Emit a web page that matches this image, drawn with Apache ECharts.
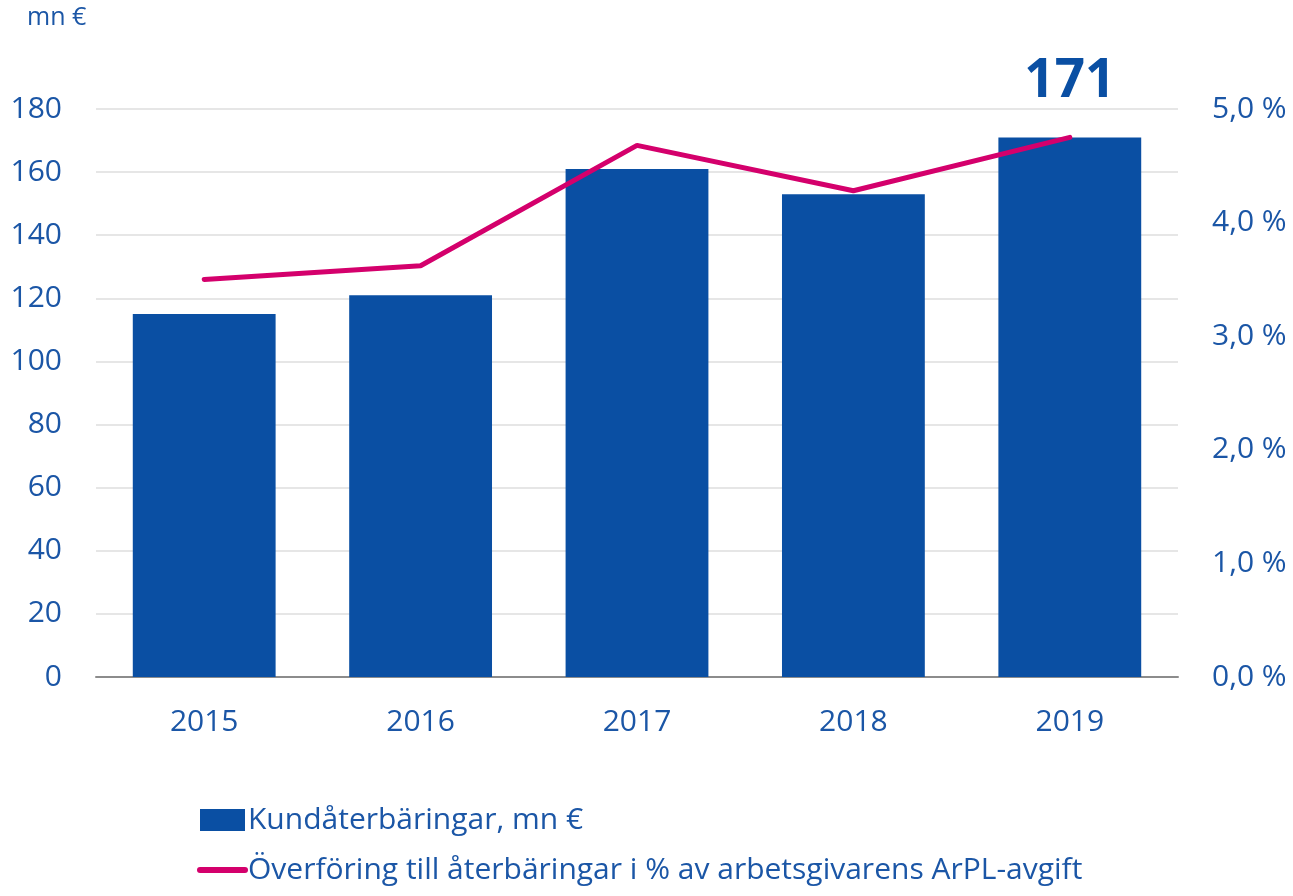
<!DOCTYPE html>
<html>
<head>
<meta charset="utf-8">
<script src="https://cdn.jsdelivr.net/npm/echarts@6/dist/echarts.min.js"></script>
<style>
	html,body{margin:0;padding:0;background:#fff;}
	#main{width:1293px;height:896px;}
</style>
</head>
<body>
<div id="main"></div>
<script>
// data
var years = ['2015', '2016', '2017', '2018', '2019']
var kundaterbaringar = [115, 121, 161, 153, 171]
var overforingPct = [3.50, 3.62, 4.68, 4.28, 4.75]
var leftTicks = [0, 20, 40, 60, 80, 100, 120, 140, 160, 180]
var rightTicks = [0, 1, 2, 3, 4, 5]

var textBlue = '#1b56a6'
var barBlue = '#0a4fa3'
var pink = '#d4006c'
var font = '"Open Sans", "Noto Sans", sans-serif'

var chart = echarts.init(document.getElementById('main'))

var option = {
	backgroundColor: '#fff',
	textStyle: { fontFamily: font },
	grid: { left: 96, right: 115, top: 109, bottom: 219 },
	graphic: [
		{
			type: 'text', left: 27, top: 5,
			style: { text: 'mn €', fill: textBlue, font: '25px ' + font }
		}
	],
	legend: {
		orient: 'vertical',
		left: 192,
		top: 800,
		itemWidth: 45,
		itemHeight: 22,
		itemGap: 20,
		textStyle: { color: textBlue, fontSize: 30, fontFamily: font, padding: [0, 0, 0, -2] },
		data: [
			{ name: 'Kundåterbäringar, mn €', icon: 'rect' },
			{
				name: 'Överföring till återbäringar i % av arbetsgivarens ArPL-avgift',
				itemStyle: { opacity: 0 },
				lineStyle: { width: 6, cap: 'round' }
			}
		]
	},
	xAxis: {
		type: 'category',
		data: years,
		axisTick: { show: false },
		axisLine: { lineStyle: { color: '#8c8c8c', width: 2 } },
		axisLabel: { color: textBlue, fontSize: 30, margin: 30, fontFamily: font }
	},
	yAxis: [
		{
			type: 'value',
			min: leftTicks[0],
			max: leftTicks[leftTicks.length - 1],
			interval: 20,
			axisLine: { show: false },
			axisTick: { show: false },
			splitLine: { lineStyle: { color: '#e6e6e6', width: 2 } },
			axisLabel: { color: textBlue, fontSize: 30, margin: 34, fontFamily: font }
		},
		{
			type: 'value',
			min: rightTicks[0],
			max: rightTicks[rightTicks.length - 1],
			interval: 1,
			axisLine: { show: false },
			axisTick: { show: false },
			splitLine: { show: false },
			axisLabel: {
				color: textBlue, fontSize: 30, margin: 34, fontFamily: font,
				formatter: function (v) { return v.toFixed(1).replace('.', ',') + ' %' }
			}
		}
	],
	series: [
		{
			name: 'Kundåterbäringar, mn €',
			type: 'bar',
			data: kundaterbaringar.map(function (v, i) {
				// only last bar gets the big label
				if (i === kundaterbaringar.length - 1) {
					return {
						value: v,
						label: {
							show: true, position: 'top', distance: 29,
							color: barBlue, fontSize: 53, fontWeight: 'bold', fontFamily: font
						}
					}
				}
				return v
			}),
			barWidth: '66%',
			itemStyle: { color: barBlue },
			z: 2
		},
		{
			name: 'Överföring till återbäringar i % av arbetsgivarens ArPL-avgift',
			type: 'line',
			yAxisIndex: 1,
			data: overforingPct,
			symbol: 'none',
			lineStyle: { color: pink, width: 5, cap: 'round' },
			itemStyle: { color: pink },
			z: 3
		}
	]
}

chart.setOption(option)
</script>
</body>
</html>
